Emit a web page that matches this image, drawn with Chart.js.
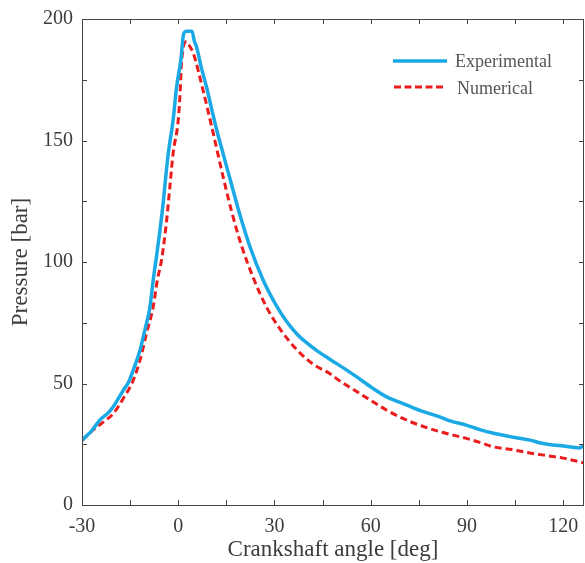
<!DOCTYPE html>
<html>
<head>
<meta charset="utf-8">
<script src="https://cdn.jsdelivr.net/npm/chart.js@4/dist/chart.umd.min.js"></script>
<style>
html,body{margin:0;padding:0;background:#fff;}
#wrap{width:585px;height:563px;}
</style>
</head>
<body>
<div id="wrap"><canvas id="c" width="585" height="563"></canvas></div>
<script>
// ---- data ----
const expAngle = [-30,-27,-24.4,-22,-20.2,-17.1,-15.5,-14,-11.9,-10.4,-8.8,-7.8,-6.8,-5.8,-4.7,-3.9,-3.1,-1.6,-0.5,0.8,1.7,2.6,4.3,5.0,5.7,7.2,8.8,10.5,12,14,16.6,19.2,22.3,26.5,30.6,33.5,36.9,40,43.1,47.5,52.4,56,60.7,65,71.1,76,81.5,85,89.8,94,98,104,109.6,113,116.7,120,123,125,126.5];
const expPressure = [26.7,30.5,35,37.7,40.5,47.3,50.5,55.6,63.8,72,81.6,92.6,102,112,124.2,135,144.7,158.4,172.1,183,194,195,195,191,188.6,180,172.1,162.5,154.3,144.5,132,119.5,106.5,92.5,82,76,70.5,66.8,63.6,59.8,55.6,52.4,48,44.5,41.2,38.6,36.3,34.5,32.9,31,29.6,28,26.7,25.5,24.7,24.3,23.8,23.5,24.5];
const numAngle = [-30,-26.5,-23,-20.2,-17.1,-14,-11.9,-9.9,-7.8,-6.5,-5.2,-3.6,-2.6,-1.6,0,0.6,1.0,2.6,3.5,4.7,7.5,10.9,14,16.6,19.7,23.4,27.5,31.7,36.9,42,47.3,50.4,55,60.7,65,71.1,76,81.5,89.8,94,98,104,109.6,115,120,126.5];
const numPressure = [26.5,30.9,34.5,37.7,43.9,51.4,59.7,70.6,81.6,92.6,100.8,117.3,131,144.7,158.4,170,181.8,190.7,189,185.9,172,153,135,121,106.8,93.5,81.5,72.5,64,58,54,51,47.2,42.5,39,35,32.5,30.2,27.4,25.8,24,22.8,21.4,20.3,19.3,17.3];
const xTickValues = [-30,0,30,60,90,120];
const yTickValues = [0,50,100,150,200];
const seriesNames = ['Experimental','Numerical'];
const xTitle = 'Crankshaft angle [deg]';
const yTitle = 'Pressure [bar]';

const pts = (xs, ys) => xs.map((x,i)=>({x:x, y:ys[i]}));
const BLUE = '#1aa9e4', RED = '#ea1c1c', INK = '#3c3c3c';

const framePlugin = {
  id:'frame',
  afterDraw(chart){
    const {ctx, chartArea:a, scales:{x,y}} = chart;
    ctx.save();
    ctx.strokeStyle = '#444'; ctx.lineWidth = 1;
    ctx.strokeRect(Math.round(a.left)+0.5, Math.round(a.top)+0.5, Math.round(a.right-a.left)-1, Math.round(a.bottom-a.top));
    const L = 5;
    ctx.beginPath();
    for (let v=-30; v<=126; v+=15){
      const px = Math.round(x.getPixelForValue(v))+0.5;
      ctx.moveTo(px, a.bottom); ctx.lineTo(px, a.bottom-L);
      ctx.moveTo(px, a.top); ctx.lineTo(px, a.top+L);
    }
    for (let v=0; v<=200; v+=25){
      const py = Math.round(y.getPixelForValue(v))+0.5;
      ctx.moveTo(a.left, py); ctx.lineTo(a.left+L, py);
      ctx.moveTo(a.right, py); ctx.lineTo(a.right-L, py);
    }
    ctx.stroke();
    // legend
    const lx0 = a.right - 191, lx1 = a.right - 137, tx = a.right - 129;
    const ly1 = a.top + 42, ly2 = a.top + 68;
    ctx.lineWidth = 3.5; ctx.strokeStyle = BLUE; ctx.setLineDash([]);
    ctx.beginPath(); ctx.moveTo(lx0, ly1); ctx.lineTo(lx1, ly1); ctx.stroke();
    ctx.lineWidth = 3; ctx.strokeStyle = RED; ctx.setLineDash([7,3.5]);
    ctx.beginPath(); ctx.moveTo(lx0+1, ly2); ctx.lineTo(lx1-4, ly2); ctx.stroke();
    ctx.setLineDash([]);
    ctx.fillStyle = '#555';
    ctx.font = '18px "Liberation Serif", "Times New Roman", serif';
    ctx.textBaseline = 'middle'; ctx.textAlign = 'left';
    ctx.fillText(seriesNames[0], tx, ly1+1);
    ctx.fillText(seriesNames[1], tx+2, ly2+2);
    ctx.restore();
  }
};

const serif = '"Liberation Serif", "Times New Roman", serif';

new Chart(document.getElementById('c'), {
  type:'scatter',
  data:{
    datasets:[
      {label:seriesNames[1], data:pts(numAngle,numPressure), showLine:true, borderColor:RED, borderWidth:3, borderDash:[7,4], pointRadius:0, cubicInterpolationMode:'monotone', fill:false, order:2},
      {label:seriesNames[0], data:pts(expAngle,expPressure), showLine:true, borderColor:BLUE, borderWidth:3.5, pointRadius:0, cubicInterpolationMode:'monotone', fill:false, order:1}
    ]
  },
  options:{
    responsive:false, animation:false, maintainAspectRatio:false,
    layout:{padding:{left:0, top:19, right:1, bottom:0}},
    plugins:{legend:{display:false}, tooltip:{enabled:false}},
    scales:{
      x:{
        type:'linear', min:-30, max:126.5,
        afterBuildTicks(s){ s.ticks = xTickValues.map(v=>({value:v})); },
        afterFit(s){ s.height = 58; s.paddingLeft = 0; s.paddingRight = 0; },
        grid:{display:false, drawTicks:false}, border:{display:false},
        ticks:{color:INK, padding:10, font:{family:serif, size:20}, maxRotation:0},
        title:{display:true, text:xTitle, color:INK, font:{family:serif, size:23, lineHeight:1}, padding:{top:0, bottom:2}}
      },
      y:{
        type:'linear', min:0, max:200,
        afterBuildTicks(s){ s.ticks = yTickValues.map(v=>({value:v})); },
        afterFit(s){ s.width = 82; s.paddingTop = 0; s.paddingBottom = 0; },
        grid:{display:false, drawTicks:false}, border:{display:false},
        ticks:{color:INK, padding:9, font:{family:serif, size:20}},
        title:{display:true, text:yTitle, color:INK, font:{family:serif, size:23, lineHeight:1.2}, padding:{top:7, bottom:0}}
      }
    }
  },
  plugins:[framePlugin]
});
</script>
</body>
</html>
